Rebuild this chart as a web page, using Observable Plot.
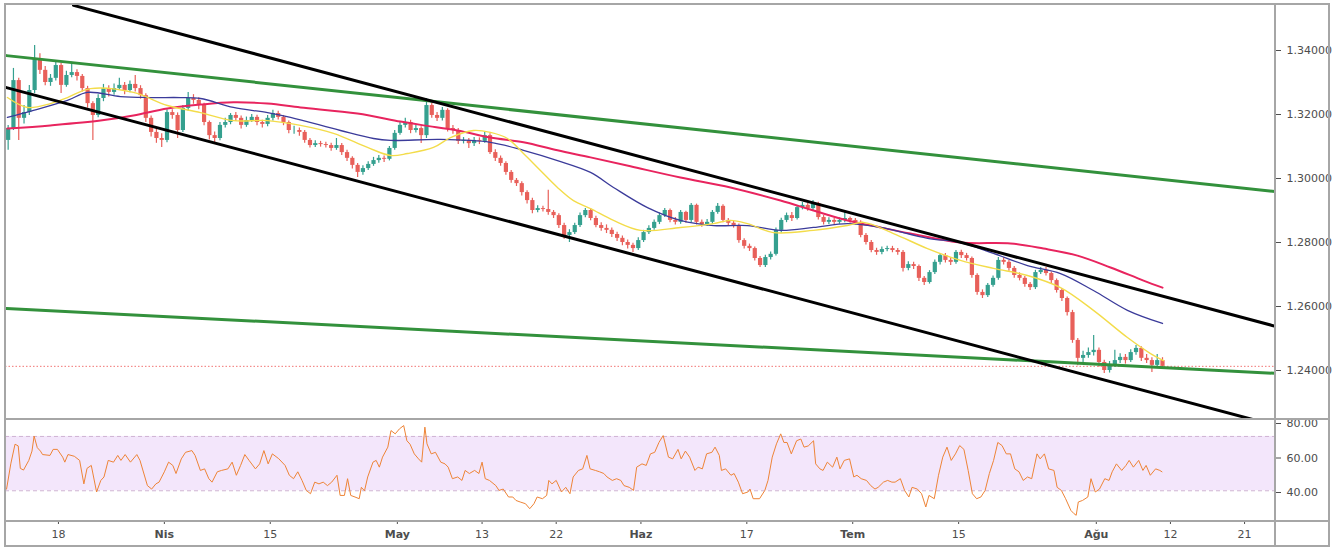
<!DOCTYPE html>
<html><head><meta charset="utf-8">
<script src="https://cdn.jsdelivr.net/npm/d3@7"></script>
<script src="https://cdn.jsdelivr.net/npm/@observablehq/plot@0.6"></script>
<style>
body{margin:0;background:#fff;}
#chart{position:relative;width:1332px;height:554px;overflow:hidden;background:#fff;font-family:"DejaVu Sans",sans-serif;}
#chart svg{position:absolute;left:0;}
.sep{position:absolute;background:#a6a6a6;}
</style></head><body><div id="chart"></div>
<script>
// ---- Data (GBP/USD, trading-day index: 0 = 18 Mar) ----
const barStart = -4.75, barStep = 0.5; // half-day bars
const open = [
1.3119,1.3156,1.3306,1.3188,1.3206,1.3275,1.3375,1.3338,1.3300,1.3313,
1.3353,1.3291,1.3322,1.3331,1.3319,1.3281,1.3234,1.3197,1.3250,1.3281,
1.3269,1.3281,1.3291,1.3275,1.3294,1.3281,1.3259,1.3188,1.3144,1.3125,
1.3119,1.3206,1.3197,1.3150,1.3219,1.3250,1.3244,1.3228,1.3175,1.3134,
1.3125,1.3166,1.3175,1.3197,1.3188,1.3166,1.3181,1.3191,1.3175,1.3169,
1.3188,1.3203,1.3191,1.3175,1.3150,1.3150,1.3144,1.3119,1.3103,1.3109,
1.3106,1.3103,1.3094,1.3103,1.3081,1.3063,1.3041,1.3019,1.3031,1.3044,
1.3056,1.3063,1.3060,1.3094,1.3141,1.3166,1.3175,1.3150,1.3156,1.3134,
1.3228,1.3197,1.3188,1.3213,1.3156,1.3150,1.3116,1.3119,1.3109,1.3119,
1.3116,1.3134,1.3081,1.3063,1.3047,1.3019,1.2994,1.2984,1.2956,1.2931,
1.2900,1.2906,1.2903,1.2894,1.2884,1.2853,1.2822,1.2831,1.2853,1.2884,
1.2900,1.2875,1.2853,1.2844,1.2838,1.2825,1.2813,1.2800,1.2791,1.2781,
1.2806,1.2831,1.2844,1.2863,1.2884,1.2900,1.2869,1.2863,1.2894,1.2869,
1.2916,1.2863,1.2856,1.2863,1.2894,1.2913,1.2869,1.2860,1.2853,1.2806,
1.2788,1.2781,1.2750,1.2728,1.2753,1.2763,1.2838,1.2869,1.2884,1.2875,
1.2909,1.2916,1.2906,1.2922,1.2878,1.2863,1.2869,1.2863,1.2869,1.2875,
1.2869,1.2863,1.2822,1.2800,1.2775,1.2769,1.2778,1.2781,1.2775,1.2769,
1.2719,1.2731,1.2725,1.2688,1.2675,1.2706,1.2738,1.2759,1.2744,1.2738,
1.2769,1.2759,1.2750,1.2697,1.2644,1.2634,1.2666,1.2688,1.2744,1.2738,
1.2719,1.2697,1.2688,1.2669,1.2659,1.2706,1.2713,1.2703,1.2681,1.2650,
1.2625,1.2581,1.2494,1.2438,1.2447,1.2456,1.2463,1.2425,1.2400,1.2416,
1.2431,1.2441,1.2431,1.2456,1.2469,1.2438,1.2431,1.2416,1.2431];
const high = [
1.3166,1.3344,1.3313,1.3228,1.3291,1.3416,1.3390,1.3350,1.3325,1.3363,
1.3360,1.3335,1.3363,1.3340,1.3325,1.3288,1.3240,1.3262,1.3294,1.3290,
1.3295,1.3313,1.3300,1.3305,1.3322,1.3290,1.3265,1.3195,1.3156,1.3140,
1.3215,1.3215,1.3205,1.3228,1.3269,1.3262,1.3252,1.3235,1.3180,1.3145,
1.3175,1.3188,1.3203,1.3206,1.3195,1.3192,1.3200,1.3198,1.3182,1.3197,
1.3213,1.3210,1.3197,1.3180,1.3163,1.3158,1.3150,1.3125,1.3118,1.3116,
1.3113,1.3110,1.3125,1.3109,1.3088,1.3068,1.3047,1.3040,1.3052,1.3066,
1.3072,1.3070,1.3100,1.3150,1.3178,1.3188,1.3182,1.3166,1.3162,1.3250,
1.3235,1.3206,1.3222,1.3218,1.3166,1.3156,1.3128,1.3125,1.3128,1.3127,
1.3144,1.3140,1.3090,1.3070,1.3052,1.3025,1.3000,1.2990,1.2962,1.2938,
1.2915,1.2913,1.2963,1.2900,1.2890,1.2860,1.2840,1.2860,1.2892,1.2906,
1.2906,1.2882,1.2862,1.2855,1.2845,1.2832,1.2820,1.2808,1.2798,1.2815,
1.2838,1.2852,1.2870,1.2892,1.2906,1.2905,1.2878,1.2900,1.2898,1.2922,
1.2920,1.2870,1.2872,1.2900,1.2922,1.2918,1.2875,1.2866,1.2858,1.2812,
1.2795,1.2786,1.2756,1.2760,1.2770,1.2845,1.2876,1.2892,1.2894,1.2916,
1.2925,1.2922,1.2931,1.2926,1.2884,1.2877,1.2876,1.2877,1.2894,1.2880,
1.2875,1.2868,1.2828,1.2806,1.2782,1.2786,1.2788,1.2788,1.2781,1.2775,
1.2740,1.2738,1.2730,1.2694,1.2712,1.2745,1.2766,1.2766,1.2752,1.2775,
1.2776,1.2766,1.2755,1.2702,1.2652,1.2672,1.2695,1.2753,1.2752,1.2744,
1.2725,1.2705,1.2694,1.2675,1.2713,1.2722,1.2722,1.2708,1.2686,1.2656,
1.2630,1.2588,1.2500,1.2460,1.2470,1.2509,1.2470,1.2432,1.2428,1.2463,
1.2452,1.2450,1.2465,1.2478,1.2474,1.2450,1.2440,1.2450,1.2440];
const low = [
1.3088,1.3150,1.3119,1.3170,1.3197,1.3266,1.3325,1.3290,1.3288,1.3305,
1.3266,1.3285,1.3315,1.3305,1.3270,1.3220,1.3119,1.3190,1.3240,1.3255,
1.3260,1.3275,1.3262,1.3268,1.3270,1.3248,1.3175,1.3130,1.3110,1.3097,
1.3112,1.3185,1.3125,1.3144,1.3210,1.3232,1.3215,1.3165,1.3120,1.3109,
1.3118,1.3158,1.3168,1.3178,1.3155,1.3160,1.3175,1.3165,1.3158,1.3162,
1.3180,1.3183,1.3165,1.3140,1.3138,1.3132,1.3110,1.3095,1.3097,1.3098,
1.3095,1.3085,1.3088,1.3072,1.3053,1.3030,1.3003,1.3010,1.3025,1.3038,
1.3048,1.3050,1.3055,1.3088,1.3135,1.3158,1.3140,1.3142,1.3109,1.3125,
1.3188,1.3178,1.3180,1.3145,1.3138,1.3106,1.3108,1.3094,1.3100,1.3106,
1.3110,1.3075,1.3053,1.3038,1.3010,1.2985,1.2975,1.2945,1.2920,1.2890,
1.2893,1.2895,1.2885,1.2875,1.2844,1.2810,1.2800,1.2825,1.2847,1.2877,
1.2868,1.2846,1.2835,1.2828,1.2816,1.2803,1.2790,1.2780,1.2769,1.2775,
1.2800,1.2825,1.2838,1.2856,1.2878,1.2862,1.2855,1.2857,1.2860,1.2862,
1.2855,1.2848,1.2850,1.2857,1.2888,1.2862,1.2852,1.2845,1.2798,1.2780,
1.2772,1.2742,1.2722,1.2722,1.2745,1.2758,1.2830,1.2862,1.2866,1.2870,
1.2902,1.2898,1.2900,1.2870,1.2855,1.2856,1.2855,1.2857,1.2862,1.2860,
1.2855,1.2815,1.2792,1.2768,1.2760,1.2762,1.2771,1.2768,1.2760,1.2708,
1.2712,1.2716,1.2678,1.2666,1.2670,1.2700,1.2730,1.2736,1.2728,1.2732,
1.2750,1.2742,1.2688,1.2635,1.2625,1.2628,1.2660,1.2682,1.2730,1.2710,
1.2688,1.2680,1.2660,1.2650,1.2653,1.2700,1.2695,1.2672,1.2642,1.2616,
1.2570,1.2485,1.2415,1.2425,1.2438,1.2445,1.2410,1.2391,1.2392,1.2410,
1.2422,1.2420,1.2425,1.2448,1.2428,1.2422,1.2394,1.2410,1.2405];
const close = [
1.3156,1.3306,1.3188,1.3206,1.3275,1.3375,1.3338,1.3300,1.3313,1.3353,
1.3291,1.3322,1.3331,1.3319,1.3281,1.3234,1.3197,1.3250,1.3281,1.3269,
1.3281,1.3291,1.3275,1.3294,1.3281,1.3259,1.3188,1.3144,1.3125,1.3119,
1.3206,1.3197,1.3150,1.3219,1.3250,1.3244,1.3228,1.3175,1.3134,1.3125,
1.3166,1.3175,1.3197,1.3188,1.3166,1.3181,1.3191,1.3175,1.3169,1.3188,
1.3203,1.3191,1.3175,1.3150,1.3150,1.3144,1.3119,1.3103,1.3109,1.3106,
1.3103,1.3094,1.3103,1.3081,1.3063,1.3041,1.3019,1.3031,1.3044,1.3056,
1.3063,1.3060,1.3094,1.3141,1.3166,1.3175,1.3150,1.3156,1.3134,1.3228,
1.3197,1.3188,1.3213,1.3156,1.3150,1.3116,1.3119,1.3109,1.3119,1.3116,
1.3134,1.3081,1.3063,1.3047,1.3019,1.2994,1.2984,1.2956,1.2931,1.2900,
1.2906,1.2903,1.2894,1.2884,1.2853,1.2822,1.2831,1.2853,1.2884,1.2900,
1.2875,1.2853,1.2844,1.2838,1.2825,1.2813,1.2800,1.2791,1.2781,1.2806,
1.2831,1.2844,1.2863,1.2884,1.2900,1.2869,1.2863,1.2894,1.2869,1.2916,
1.2863,1.2856,1.2863,1.2894,1.2913,1.2869,1.2860,1.2853,1.2806,1.2788,
1.2781,1.2750,1.2728,1.2753,1.2763,1.2838,1.2869,1.2884,1.2875,1.2909,
1.2916,1.2906,1.2922,1.2878,1.2863,1.2869,1.2863,1.2869,1.2875,1.2869,
1.2863,1.2822,1.2800,1.2775,1.2769,1.2778,1.2781,1.2775,1.2769,1.2719,
1.2731,1.2725,1.2688,1.2675,1.2706,1.2738,1.2759,1.2744,1.2738,1.2769,
1.2759,1.2750,1.2697,1.2644,1.2634,1.2666,1.2688,1.2744,1.2738,1.2719,
1.2697,1.2688,1.2669,1.2659,1.2706,1.2713,1.2703,1.2681,1.2650,1.2625,
1.2581,1.2494,1.2438,1.2447,1.2456,1.2463,1.2425,1.2400,1.2416,1.2431,
1.2441,1.2431,1.2456,1.2469,1.2438,1.2431,1.2416,1.2431,1.2413];

// Moving averages [tradingDay, price]
const ma50 = [[-4.82,1.3253],[-2.93,1.3222],[-0.76,1.3234],[0.85,1.3253],[3.02,1.3281],[7.08,1.3269],[10.29,1.3228],[13.41,1.3206],[16.52,1.3181],[19.74,1.3181],[22.85,1.3166],[25.97,1.3141],[29.18,1.3097],[31.35,1.3072],[32.96,1.3078],[35.41,1.3097],[37.02,1.3128],[39.19,1.3150],[40.79,1.3144],[42.40,1.3125],[43.91,1.3078],[45.51,1.3025],[47.12,1.2972],[48.63,1.2931],[50.24,1.2906],[52.41,1.2869],[54.96,1.2838],[58.73,1.2847],[61.85,1.2859],[63.46,1.2869],[65.06,1.2859],[67.52,1.2831],[71.29,1.2838],[74.50,1.2853],[76.02,1.2863],[78.85,1.2828],[82.06,1.2781],[85.17,1.2744],[88.29,1.2719],[91.50,1.2697],[94.62,1.2659],[97.73,1.2588],[100.94,1.2503],[103.12,1.2453],[104.34,1.2431]];
const ma100 = [[-4.82,1.3191],[-2.36,1.3213],[0.85,1.3244],[2.74,1.3269],[5.85,1.3256],[8.69,1.3253],[11.52,1.3253],[13.41,1.3250],[16.52,1.3222],[19.74,1.3206],[21.91,1.3191],[26.63,1.3150],[29.75,1.3125],[31.35,1.3119],[36.07,1.3122],[40.79,1.3113],[43.91,1.3088],[47.12,1.3056],[50.24,1.3019],[52.41,1.2972],[55.62,1.2909],[58.73,1.2869],[61.85,1.2853],[65.06,1.2853],[68.18,1.2838],[71.29,1.2847],[74.50,1.2859],[77.62,1.2847],[82.06,1.2813],[85.17,1.2800],[88.29,1.2766],[91.50,1.2728],[94.62,1.2703],[97.73,1.2650],[100.94,1.2588],[104.25,1.2547]];
const ma200 = [[-4.82,1.3156],[-0.76,1.3166],[3.97,1.3181],[7.08,1.3197],[10.29,1.3219],[13.41,1.3231],[16.52,1.3238],[19.74,1.3234],[22.85,1.3222],[28.23,1.3203],[32.29,1.3178],[34.47,1.3166],[37.68,1.3150],[40.79,1.3128],[43.91,1.3113],[47.12,1.3088],[50.24,1.3066],[54.01,1.3038],[58.73,1.3003],[63.46,1.2972],[68.18,1.2931],[71.29,1.2900],[74.50,1.2869],[77.62,1.2847],[80.45,1.2828],[85.17,1.2800],[89.90,1.2797],[93.01,1.2781],[96.22,1.2759],[99.34,1.2722],[102.46,1.2681],[104.25,1.2659]];

// Trend lines [tradingDay, price]
const channelTop = [[1.42,1.3541],[114.92,1.2538]];
const channelBottom = [[-4.91,1.3284],[114.92,1.2228]];
const greenTop = [[-4.91,1.3384],[114.92,1.2959]];
const greenBottom = [[-4.91,1.2594],[114.92,1.2391]];
const lastPrice = [1.2413];

// RSI [tradingDay, value]
const rsiPoints = [[-4.9,42],[-4.5,56.6],[-4.1,68],[-3.8,67],[-3.6,54],[-3.3,53],[-2.8,58.6],[-2.5,64],[-2.3,72.7],[-2.0,66],[-1.7,64],[-1.5,62],[-0.8,61.5],[-0.5,65],[-0.1,65],[0.4,60.5],[0.6,57.6],[0.9,62],[1.5,61],[2.0,58.6],[2.4,45],[2.7,54],[3.1,55.7],[3.6,40.3],[4.0,47],[4.3,49],[4.7,58.6],[5.2,57.6],[5.6,61.5],[5.9,58.6],[6.3,62],[6.8,57.6],[7.4,62],[7.7,58.6],[8.4,44],[8.8,42],[9.2,45],[9.5,46],[10.0,52],[10.4,57.6],[10.8,55.7],[11.1,51],[11.6,59.5],[12.0,63.3],[12.6,64.3],[12.9,61.5],[13.4,52.8],[13.8,53.7],[14.2,48],[14.5,46],[15.0,52],[15.4,52.8],[16.0,53.7],[16.4,57.6],[16.8,50],[17.2,55.7],[17.6,62],[18.0,58.6],[18.6,53.7],[19.0,56.6],[19.4,64.3],[19.8,56.6],[20.2,62.4],[20.8,59.6],[21.4,55.7],[21.8,50],[22.2,48],[22.6,52],[23.0,47],[23.4,41.2],[23.8,39.3],[24.2,46],[24.6,45],[25.0,46],[25.4,44],[25.8,46],[26.3,50],[26.6,38.3],[27.0,38.3],[27.3,48],[27.6,38.3],[28.0,37.4],[28.4,36.4],[28.6,43],[28.9,41],[29.2,49],[29.7,57.6],[30.0,58.6],[30.3,54.7],[30.6,60.5],[31.1,66.3],[31.4,75.9],[31.8,74],[32.2,76.9],[32.6,78.8],[32.9,70],[33.2,68],[33.6,62.4],[34.0,59.5],[34.3,57.6],[34.6,77.9],[34.8,68.2],[35.2,62.4],[35.6,63.3],[36.1,57.6],[36.5,56.6],[36.8,54.7],[37.2,48],[37.7,49],[38.1,47],[38.4,52.8],[38.8,51],[39.3,52.8],[39.7,51],[40.0,57.6],[40.3,48],[40.7,47],[41.3,44],[41.6,41.2],[42.0,42],[42.5,37.4],[42.9,37.4],[43.2,35.4],[43.6,34.5],[44.1,33.5],[44.5,30.6],[44.9,33.5],[45.2,37.4],[45.7,36.4],[46.1,38.3],[46.3,47],[46.6,45],[47.0,47],[47.5,40.3],[47.9,43],[48.3,39.3],[48.6,49],[49.1,52.8],[49.5,53.7],[49.9,61.5],[50.2,53.7],[50.7,52.8],[51.1,52],[51.5,51],[51.8,49],[52.3,47],[52.7,48],[53.1,47],[53.4,44],[53.9,43],[54.3,41.2],[54.6,54.7],[55.1,56.6],[55.5,55.7],[55.9,62.4],[56.3,63.3],[56.7,69],[57.1,73],[57.6,60.5],[58.0,59.5],[58.5,65],[58.8,59.5],[59.2,64],[59.6,60.5],[60.1,52.8],[60.4,54.7],[60.8,53.7],[61.2,62.4],[61.7,63.3],[62.0,66.3],[62.4,61.5],[62.6,52.8],[63.0,53.7],[63.5,50],[63.8,51],[64.2,46],[64.6,39.3],[65.1,40.3],[65.3,42],[65.6,36.4],[66.2,36.4],[66.7,41.2],[67.0,47],[67.4,60.5],[67.8,68.2],[68.2,74],[68.5,69],[68.8,69],[69.2,62.4],[69.7,70],[70.1,71],[70.4,66.3],[70.8,67],[71.3,70],[71.5,56.6],[71.9,53.7],[72.2,52.8],[72.6,57.6],[73.1,54.7],[73.5,60.5],[73.8,53.7],[74.2,58.6],[74.7,59.5],[75.1,49],[75.4,50],[75.8,48],[76.3,47],[76.7,44],[77.1,42],[77.4,43],[77.9,46],[78.3,47],[78.7,46],[79.0,46],[79.5,48],[79.9,41.2],[80.3,37.4],[80.6,43],[81.1,42],[81.5,39.3],[81.9,31.6],[82.2,38.3],[82.7,36.4],[83.1,50],[83.5,60.5],[83.9,66.3],[84.3,58.6],[84.7,62.4],[85.1,67.2],[85.5,65],[85.9,52.8],[86.3,39.3],[86.7,36.4],[87.1,37.4],[87.5,41.2],[87.9,51],[88.3,58.6],[88.7,69],[89.1,67.2],[89.5,62.4],[89.9,62.4],[90.3,53.7],[90.7,52],[91.1,47],[91.5,49],[91.9,48],[92.4,62.4],[92.7,59.5],[93.1,62.4],[93.5,53.7],[94.0,52.8],[94.3,43],[94.7,41.2],[95.1,36.4],[95.6,29.6],[95.9,27.7],[96.1,26.8],[96.3,34.5],[96.7,35.4],[97.2,37.4],[97.5,48],[97.9,40.3],[98.3,42],[98.8,48],[99.2,47],[99.5,52],[99.9,56.6],[100.4,52.8],[100.8,55.7],[101.1,58.6],[101.5,54.7],[102.0,58.6],[102.4,52.8],[102.7,55.7],[103.1,50],[103.6,53.7],[104.0,52.8],[104.2,52]];
const rsiBand = [41, 72.5];

// Axis ticks
const priceTicks = [1.24, 1.26, 1.28, 1.30, 1.32, 1.34];
const rsiTicks = [40, 60, 80];
const timeTickDays = [0, 10, 20, 32, 40, 47, 55, 65, 75, 85, 98, 105, 112];
const timeTickLabels = ["18", "Nis", "15", "May", "13", "22", "Haz", "17", "Tem", "15", "Ağu", "12", "21"];
const monthLabels = ["Nis", "May", "Haz", "Tem", "Ağu"];

// ---- Build ----
const n = Math.min(open.length, high.length, low.length, close.length);
const candles = d3.range(n).map(i => ({
  t: barStart + barStep * i, open: open[i], high: high[i], low: low[i], close: close[i],
  color: close[i] >= open[i] ? "#35a08f" : "#e8605a"
}));
const labelOf = new Map(timeTickDays.map((d, i) => [d, timeTickLabels[i]]));

const W = 1332;
const xDomain = [-5.0, 114.92];
const style = {fontFamily: "DejaVu Sans", fontSize: "11px", color: "#4d4d4d", background: "transparent"};
const fx = d => d[0], fy = d => d[1];

const pricePlot = Plot.plot({
  width: W, height: 419, marginTop: 4, marginBottom: 0, marginLeft: 5, marginRight: 57,
  x: {type: "linear", domain: xDomain, axis: null},
  y: {type: "linear", domain: [1.2246875, 1.354375], axis: null},
  style: {...style, overflow: "hidden"},
  marks: [
    Plot.ruleY(lastPrice, {stroke: "#ef5350", strokeWidth: 1, strokeDasharray: "1.5,2", strokeOpacity: 0.8}),
    Plot.ruleX(candles, {x: "t", y1: "low", y2: "high", stroke: "color", strokeWidth: 1.2}),
    Plot.ruleX(candles, {x: "t", y1: "open", y2: "close", stroke: "color", strokeWidth: 4.2}),
    Plot.line(ma200, {x: fx, y: fy, stroke: "#e8245e", strokeWidth: 2, curve: "catmull-rom"}),
    Plot.line(ma100, {x: fx, y: fy, stroke: "#3b3b9a", strokeWidth: 1.3, curve: "catmull-rom"}),
    Plot.line(ma50, {x: fx, y: fy, stroke: "#f3dc4a", strokeWidth: 1.4, curve: "catmull-rom"}),
    Plot.line(greenTop, {x: fx, y: fy, stroke: "#33913c", strokeWidth: 3, clip: true}),
    Plot.line(greenBottom, {x: fx, y: fy, stroke: "#33913c", strokeWidth: 3, clip: true}),
    Plot.line(channelTop, {x: fx, y: fy, stroke: "#000", strokeWidth: 3, clip: true}),
    Plot.line(channelBottom, {x: fx, y: fy, stroke: "#000", strokeWidth: 3, clip: true}),
    Plot.axisY({anchor: "right", ticks: priceTicks, tickFormat: d3.format(".5f"), tickSize: 5, tickPadding: 6, label: null})
  ]
});

const rsiPlot = Plot.plot({
  width: W, height: 135, marginTop: 0, marginBottom: 33, marginLeft: 5, marginRight: 57,
  x: {type: "linear", domain: xDomain, axis: null},
  y: {type: "linear", domain: [23.19, 82.32], axis: null},
  style: {...style, overflow: "visible"},
  marks: [
    Plot.rect([rsiBand], {x1: () => xDomain[0], x2: () => xDomain[1], y1: d => d[0], y2: d => d[1], fill: "#f3e6fb"}),
    Plot.ruleY(rsiBand, {stroke: "#cfb3d3", strokeDasharray: "4,3", strokeWidth: 1}),
    Plot.line(rsiPoints, {x: fx, y: fy, stroke: "#ee8437", strokeWidth: 1}),
    Plot.axisY({anchor: "right", ticks: rsiTicks, tickFormat: d3.format(".2f"), tickSize: 5, tickPadding: 6, label: null}),
    Plot.axisX({anchor: "bottom", ticks: timeTickDays, tickFormat: d => labelOf.get(d), tickSize: 3, tickPadding: 6, label: null})
  ]
});

const chart = document.getElementById("chart");
pricePlot.style.top = "0px";
rsiPlot.style.top = "419px";
chart.appendChild(pricePlot);
chart.appendChild(rsiPlot);
rsiPlot.querySelectorAll("text").forEach(t => {
  if (monthLabels.includes(t.textContent)) t.setAttribute("font-weight", "bold");
});

function sep(l, t, w, h) {
  const d = document.createElement("div");
  d.className = "sep";
  Object.assign(d.style, {left: l + "px", top: t + "px", width: w + "px", height: h + "px"});
  chart.appendChild(d);
}
sep(4, 3, 1326, 2);      // top border
sep(4, 3, 2, 544);       // left border
sep(1328, 3, 2, 544);    // right border
sep(4, 545, 1326, 2);    // bottom border
sep(1274, 4, 2, 542);    // price-scale separator
sep(5, 418, 1324, 2);    // main / RSI separator
sep(5, 520, 1324, 2);    // RSI / time-axis separator
</script></body></html>
